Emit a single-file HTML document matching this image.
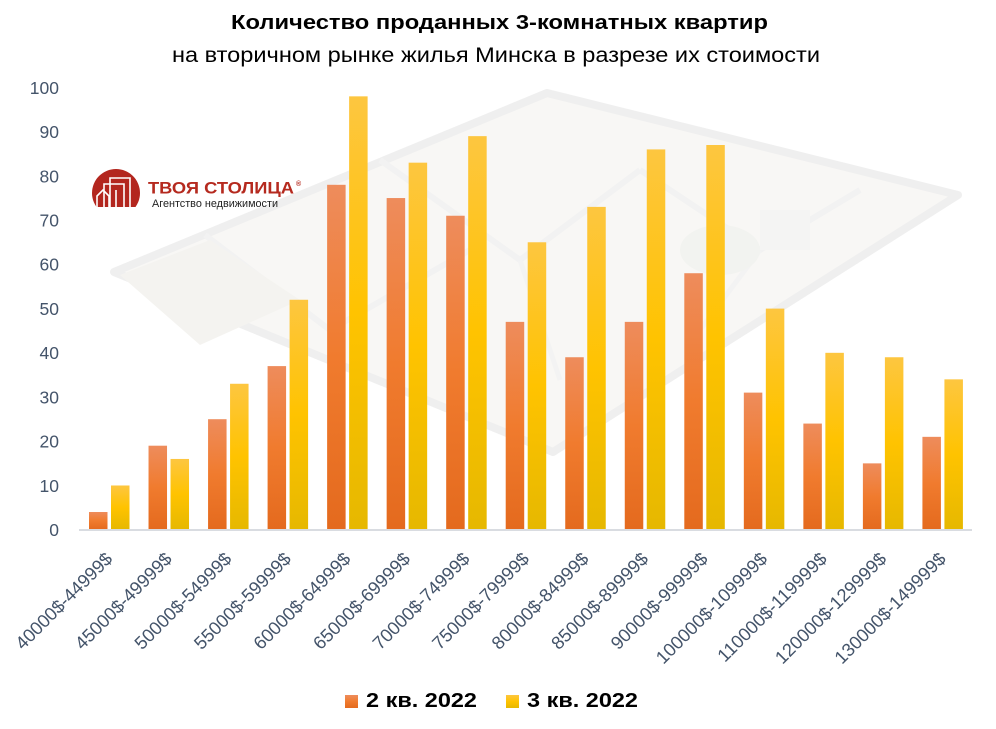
<!DOCTYPE html>
<html><head><meta charset="utf-8"><style>
html,body{margin:0;padding:0;background:#fff;}
svg{display:block;}
text{font-family:"Liberation Sans","DejaVu Sans",sans-serif;}
</style></head><body>
<svg width="996" height="729" viewBox="0 0 996 729" xmlns="http://www.w3.org/2000/svg">
<defs>
<linearGradient id="go" x1="0" y1="0" x2="0" y2="1">
<stop offset="0" stop-color="#ee8c5c"/><stop offset="0.5" stop-color="#f07b2e"/><stop offset="1" stop-color="#e46a1e"/>
</linearGradient>
<linearGradient id="gy" x1="0" y1="0" x2="0" y2="1">
<stop offset="0" stop-color="#fdc640"/><stop offset="0.5" stop-color="#ffc300"/><stop offset="1" stop-color="#e6b800"/>
</linearGradient>
<clipPath id="lc"><rect x="85" y="160" width="70" height="47"/></clipPath>
</defs>
<rect width="996" height="729" fill="#fff"/>

<!-- faint floor plan background -->
<g opacity="0.5">
<polygon points="114,272 547,93 958,195 553,452" fill="#f3f1ec" stroke="#e0e0e0" stroke-width="8" stroke-linejoin="round"/>
<polyline points="205,235 330,330 470,250" fill="none" stroke="#e6e6e6" stroke-width="6"/>
<polyline points="380,160 520,260 640,170" fill="none" stroke="#e6e6e6" stroke-width="6"/>
<polyline points="520,260 560,380" fill="none" stroke="#e8e8e8" stroke-width="5"/>
<polyline points="640,170 760,250 860,190" fill="none" stroke="#e6e6e6" stroke-width="6"/>
<polyline points="760,250 700,330" fill="none" stroke="#e8e8e8" stroke-width="5"/>
<rect x="760" y="210" width="50" height="40" fill="#ebebe8"/>
<ellipse cx="720" cy="250" rx="40" ry="25" fill="#e7e9e2"/>
<polygon points="120,275 210,240 300,300 200,345" fill="#ebe9e3"/>
</g>

<!-- logo -->
<g clip-path="url(#lc)">
<circle cx="116" cy="193" r="24" fill="#b3261e"/>
</g>
<g fill="none" stroke="#fff" stroke-width="1.6">
<polyline points="104,207 104,184 124,184 124,207"/>
<polyline points="110,207 110,178 130,178 130,207"/>
<polyline points="97,207 97,196 103,190 109,196 109,207"/>
<line x1="116" y1="190" x2="116" y2="207"/>
</g>
<text x="148" y="193.5" font-size="17" font-weight="bold" fill="#b52a1f" textLength="146" lengthAdjust="spacingAndGlyphs">ТВОЯ СТОЛИЦА</text>
<text x="296" y="186" font-size="7" font-weight="bold" fill="#b52a1f">®</text>
<text x="152" y="207" font-size="11" fill="#222" textLength="126" lengthAdjust="spacingAndGlyphs">Агентство недвижимости</text>

<!-- title -->
<text x="231" y="29" font-size="20" font-weight="bold" fill="#000" textLength="537" lengthAdjust="spacingAndGlyphs">Количество проданных 3-комнатных квартир</text>
<text x="172" y="62" font-size="21" fill="#000" textLength="648" lengthAdjust="spacingAndGlyphs">на вторичном рынке жилья Минска в разрезе их стоимости</text>

<!-- y axis labels -->
<g font-size="17.5" fill="#44546a" text-anchor="end">
<text x="59" y="536.0">0</text>
<text x="59" y="491.8">10</text>
<text x="59" y="447.6">20</text>
<text x="59" y="403.4">30</text>
<text x="59" y="359.1">40</text>
<text x="59" y="314.9">50</text>
<text x="59" y="270.7">60</text>
<text x="59" y="226.5">70</text>
<text x="59" y="182.3">80</text>
<text x="59" y="138.1">90</text>
<text x="59" y="93.8">100</text>
</g>

<!-- orange bars -->
<g fill="url(#go)">
<rect x="89" y="512.0" width="18.5" height="17.7"/>
<rect x="148.53" y="445.7" width="18.5" height="84.0"/>
<rect x="208.06" y="419.2" width="18.5" height="110.5"/>
<rect x="267.59" y="366.1" width="18.5" height="163.6"/>
<rect x="327.12" y="184.8" width="18.5" height="344.9"/>
<rect x="386.65" y="198.05" width="18.5" height="331.65"/>
<rect x="446.18" y="215.74" width="18.5" height="313.96"/>
<rect x="505.71" y="321.87" width="18.5" height="207.83"/>
<rect x="565.24" y="357.24" width="18.5" height="172.46"/>
<rect x="624.77" y="321.87" width="18.5" height="207.83"/>
<rect x="684.3" y="273.22" width="18.5" height="256.48"/>
<rect x="743.83" y="392.62" width="18.5" height="137.08"/>
<rect x="803.36" y="423.57" width="18.5" height="106.13"/>
<rect x="862.89" y="463.37" width="18.5" height="66.33"/>
<rect x="922.42" y="436.84" width="18.5" height="92.86"/>
</g>
<!-- yellow bars -->
<g fill="url(#gy)">
<rect x="111" y="485.48" width="18.5" height="44.22"/>
<rect x="170.53" y="458.95" width="18.5" height="70.75"/>
<rect x="230.06" y="383.77" width="18.5" height="145.93"/>
<rect x="289.59" y="299.76" width="18.5" height="229.94"/>
<rect x="349.12" y="96.34" width="18.5" height="433.36"/>
<rect x="408.65" y="162.67" width="18.5" height="367.03"/>
<rect x="468.18" y="136.14" width="18.5" height="393.56"/>
<rect x="527.71" y="242.27" width="18.5" height="287.43"/>
<rect x="587.24" y="206.89" width="18.5" height="322.81"/>
<rect x="646.77" y="149.41" width="18.5" height="380.29"/>
<rect x="706.3" y="145.0" width="18.5" height="384.7"/>
<rect x="765.83" y="308.6" width="18.5" height="221.1"/>
<rect x="825.36" y="352.82" width="18.5" height="176.88"/>
<rect x="884.89" y="357.24" width="18.5" height="172.46"/>
<rect x="944.42" y="379.35" width="18.5" height="150.35"/>
</g>

<!-- axis -->
<rect x="79" y="529" width="893" height="2" fill="#d9dce1"/>

<!-- x labels -->
<g font-size="18.3" fill="#44546a" text-anchor="end">
<text transform="translate(113.5,560) rotate(-45)">40000$-44999$</text>
<text transform="translate(173.0,560) rotate(-45)">45000$-49999$</text>
<text transform="translate(232.6,560) rotate(-45)">50000$-54999$</text>
<text transform="translate(292.1,560) rotate(-45)">55000$-59999$</text>
<text transform="translate(351.6,560) rotate(-45)">60000$-64999$</text>
<text transform="translate(411.2,560) rotate(-45)">65000$-69999$</text>
<text transform="translate(470.7,560) rotate(-45)">70000$-74999$</text>
<text transform="translate(530.2,560) rotate(-45)">75000$-79999$</text>
<text transform="translate(589.7,560) rotate(-45)">80000$-84999$</text>
<text transform="translate(649.3,560) rotate(-45)">85000$-89999$</text>
<text transform="translate(708.8,560) rotate(-45)">90000$-99999$</text>
<text transform="translate(768.3,560) rotate(-45)">100000$-109999$</text>
<text transform="translate(827.9,560) rotate(-45)">110000$-119999$</text>
<text transform="translate(887.4,560) rotate(-45)">120000$-129999$</text>
<text transform="translate(946.9,560) rotate(-45)">130000$-149999$</text>
</g>

<!-- legend -->
<rect x="345" y="695" width="13" height="13" fill="url(#go)"/>
<text x="366" y="707" font-size="20.5" font-weight="bold" fill="#000" textLength="111" lengthAdjust="spacingAndGlyphs">2 кв. 2022</text>
<rect x="506" y="695" width="13" height="13" fill="url(#gy)"/>
<text x="527" y="707" font-size="20.5" font-weight="bold" fill="#000" textLength="111" lengthAdjust="spacingAndGlyphs">3 кв. 2022</text>
</svg>
</body></html>
